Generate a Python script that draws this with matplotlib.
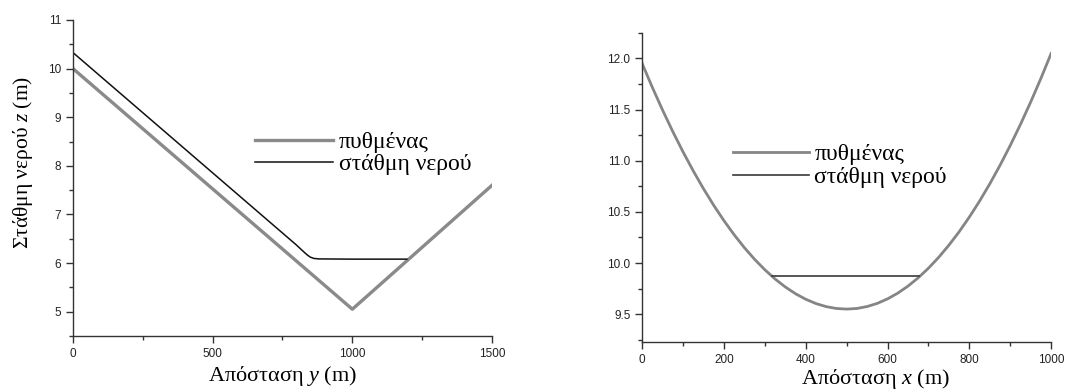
import numpy as np
import matplotlib
matplotlib.use('Agg')
import matplotlib.pyplot as plt
from matplotlib.ticker import MultipleLocator, FormatStrFormatter

# left: longitudinal profile along y
y_bed = [0, 1000, 1500]
z_bed_y = [10.0, 5.05, 7.6]
y_water = [0, 800, 815, 830, 840, 850, 862, 880, 1000, 1195]
z_water_y = [10.33, 6.37, 6.29, 6.21, 6.16, 6.12, 6.095, 6.085, 6.08, 6.08]

# right: cross section along x
x_bed = [0, 25, 50, 75, 100, 125, 150, 175, 200, 225, 250, 275, 300, 325, 350, 375,
         400, 425, 450, 475, 500, 525, 550, 575, 600, 625, 650, 675, 700, 725, 750,
         775, 800, 825, 850, 875, 900, 925, 950, 975, 1000]
z_bed_x = [11.95, 11.716, 11.494, 11.284, 11.086, 10.90, 10.726, 10.564, 10.414,
           10.276, 10.15, 10.036, 9.934, 9.844, 9.766, 9.70, 9.646, 9.604, 9.574,
           9.556, 9.55, 9.556, 9.575, 9.606, 9.65, 9.706, 9.775, 9.856, 9.95, 10.056,
           10.175, 10.306, 10.45, 10.606, 10.775, 10.956, 11.15, 11.356, 11.575,
           11.806, 12.05]
x_water = [317, 677]
z_water_x = [9.875, 9.875]

labels = ['πυθμένας', 'στάθμη νερού']

serif = ['Liberation Serif', 'DejaVu Serif']
sans = ['Liberation Sans', 'DejaVu Sans']
plt.rcParams['font.family'] = sans
plt.rcParams['mathtext.fontset'] = 'custom'
plt.rcParams['mathtext.it'] = 'Liberation Serif:italic'
plt.rcParams['mathtext.rm'] = 'Liberation Serif'

fig = plt.figure(figsize=(10.65, 3.92), dpi=100)
ax1 = fig.add_axes([0.0685, 0.143, 0.3935, 0.806])
ax2 = fig.add_axes([0.603, 0.128, 0.384, 0.788])

spine_c = '#333333'
for ax in (ax1, ax2):
    ax.spines['top'].set_visible(False)
    ax.spines['right'].set_visible(False)
    for s in ('left', 'bottom'):
        ax.spines[s].set_color(spine_c)
        ax.spines[s].set_linewidth(1.0)
    ax.tick_params(which='major', direction='out', length=5, width=1, color=spine_c,
                   labelsize=8.5, labelcolor='#222222')
    ax.tick_params(which='minor', direction='out', length=3, width=1, color=spine_c)

ax1.plot(y_bed, z_bed_y, color='#8a8a8a', lw=2.4, label=labels[0])
ax1.plot(y_water, z_water_y, color='#111111', lw=1.1, label=labels[1])
ax1.set_xlim(0, 1500)
ax1.set_ylim(4.5, 11)
ax1.xaxis.set_major_locator(MultipleLocator(500))
ax1.xaxis.set_minor_locator(MultipleLocator(250))
ax1.yaxis.set_major_locator(MultipleLocator(1))
ax1.yaxis.set_minor_locator(MultipleLocator(0.5))
ax1.set_xlabel('Απόσταση $y$ (m)', family=serif, fontsize=16, labelpad=3)
ax1.set_ylabel('Στάθμη νερού $z$ (m)', family=serif, fontsize=15.5)
ax1.yaxis.set_label_coords(-0.09, 0.55)
ax1.legend(loc='center left', bbox_to_anchor=(0.434, 0.579), frameon=False,
           prop={'family': serif, 'size': 17}, handlelength=3.3,
           handletextpad=0.25, labelspacing=0.02, borderpad=0, borderaxespad=0)

ax2.plot(x_bed, z_bed_x, color='#858585', lw=2.0, label=labels[0])
ax2.plot(x_water, z_water_x, color='#3a3a3a', lw=1.2, label=labels[1])
ax2.set_xlim(0, 1000)
ax2.set_ylim(9.23, 12.25)
ax2.xaxis.set_major_locator(MultipleLocator(200))
ax2.xaxis.set_minor_locator(MultipleLocator(100))
ax2.yaxis.set_major_locator(MultipleLocator(0.5))
ax2.yaxis.set_minor_locator(MultipleLocator(0.25))
ax2.yaxis.set_major_formatter(FormatStrFormatter('%.1f'))
ax2.set_xlabel('Απόσταση $x$ (m)', family=serif, fontsize=16, labelpad=1)
ax2.xaxis.label.set_x(0.57)
ax2.legend(loc='center left', bbox_to_anchor=(0.222, 0.570), frameon=False,
           prop={'family': serif, 'size': 17}, handlelength=3.2,
           handletextpad=0.25, labelspacing=0.05, borderpad=0, borderaxespad=0)

fig.savefig('out.png', dpi=100)
